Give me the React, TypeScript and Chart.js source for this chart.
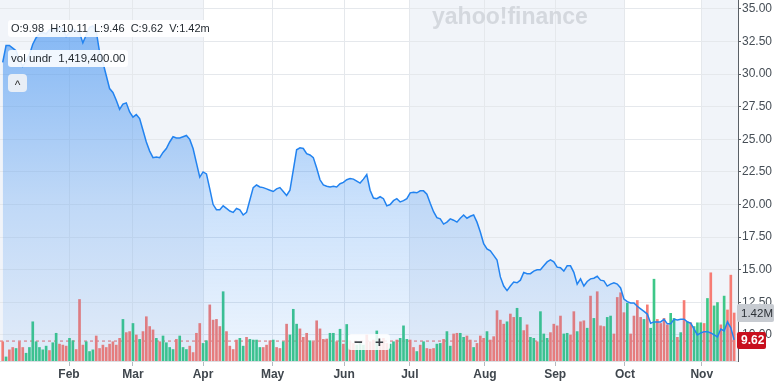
import React, { useEffect, useRef } from 'react';
import { Chart, registerables } from 'chart.js';

Chart.register(...registerables);

// Daily closing prices (trading days, Jan -> mid Nov)
const PRICES: number[] = [
  30.9, 32.2, 32.2, 32.0, 31.8, 31.1, 30.6, 31.0, 31.5, 32.3,
  32.8, 33.1, 33.2, 33.1, 33.4, 33.5, 33.4, 33.6, 33.5, 32.9,
  33.2, 33.5, 33.3, 33.2, 32.4, 33.0, 33.6, 33.7, 33.3, 31.7,
  30.9, 29.9, 28.9, 28.6, 28.0, 27.3, 27.7, 27.8, 27.1, 26.7,
  26.9, 26.6, 25.7, 24.8, 24.1, 23.6, 23.65, 23.6, 24.0, 24.3,
  24.8, 25.2, 25.1, 25.1, 25.2, 25.3, 25.0, 24.3, 23.2, 22.1,
  22.5, 22.35, 21.2, 20.0, 19.6, 19.6, 19.9, 19.7, 19.5, 19.4,
  19.7, 19.6, 19.2, 19.4, 20.35, 21.3, 21.5, 21.35, 21.3, 21.2,
  21.1, 21.0, 21.2, 21.3, 21.0, 20.7, 21.1, 22.65, 24.2, 24.35,
  24.3, 23.9, 23.8, 23.6, 22.8, 21.9, 21.5, 21.4, 21.35, 21.4,
  21.35, 21.6, 21.7, 21.9, 22.0, 21.95, 21.8, 21.65, 21.95, 22.3,
  21.1, 20.5, 20.45, 20.6, 20.45, 19.9, 20.0, 20.3, 20.45, 20.2,
  20.3, 20.45, 20.9, 20.95, 20.9, 21.05, 21.05, 20.8, 20.1, 19.45,
  19.0, 18.9, 18.5, 18.65, 18.9, 18.8, 18.65, 18.95, 19.2, 18.95,
  19.1, 19.2, 18.65, 17.9, 17.0, 16.6, 16.45, 16.1, 15.75, 14.45,
  13.75, 13.4, 13.75, 14.05, 14.0, 14.2, 14.8, 14.7, 14.7, 14.9,
  15.0, 15.0, 15.3, 15.6, 15.75, 15.6, 15.2, 15.15, 14.9, 15.3,
  15.3, 14.8, 13.9, 14.3, 13.75, 14.1, 14.3, 14.35, 14.5, 14.2,
  14.15, 13.75, 13.9, 14.0, 13.9, 13.6, 12.75, 12.55, 12.45, 12.45,
  12.2, 12.0, 11.8, 11.6, 10.9, 11.0, 11.0, 11.0, 11.2, 10.85,
  10.85, 11.2, 11.15, 11.2, 11.2, 11.0, 10.9, 10.45, 10.0, 10.15,
  10.25, 10.25, 10.15, 10.0, 9.85, 10.45, 10.3, 11.0, 10.55, 9.62,
];

// Daily volume, millions of shares
const VOLUMES: number[] = [
  0.57, 0.12, 0.33, 0.40, 0.37, 0.57, 0.40, 0.23, 0.40, 1.16,
  0.57, 0.40, 0.33, 0.44, 0.31, 0.54, 0.82, 0.50, 0.47, 0.44,
  0.67, 0.60, 0.34, 1.82, 0.47, 0.57, 0.28, 0.33, 0.74, 0.37,
  0.47, 0.40, 0.50, 0.57, 0.47, 0.67, 1.23, 0.84, 0.87, 1.11,
  0.77, 0.64, 0.87, 1.31, 1.02, 0.92, 0.67, 0.57, 0.74, 0.54,
  0.40, 0.34, 0.64, 0.74, 0.40, 0.34, 0.44, 0.25, 0.82, 1.11,
  0.52, 0.60, 1.66, 1.21, 1.23, 1.02, 2.05, 0.87, 0.44, 0.34,
  0.62, 0.67, 0.44, 0.70, 0.64, 0.62, 0.62, 0.40, 0.40, 0.47,
  0.60, 0.62, 0.40, 0.37, 0.57, 1.09, 0.77, 1.53, 1.09, 0.95,
  0.70, 0.82, 0.60, 0.57, 1.19, 0.95, 0.64, 0.65, 0.82, 0.82,
  0.57, 0.94, 0.50, 1.08, 0.57, 0.52, 0.47, 0.52, 0.47, 0.77,
  0.57, 0.62, 0.89, 0.57, 0.67, 0.52, 0.50, 0.57, 0.62, 0.67,
  1.04, 0.64, 0.62, 0.40, 0.28, 0.47, 0.57, 0.37, 0.35, 0.37,
  0.50, 0.52, 0.64, 0.87, 0.44, 0.80, 0.82, 0.82, 0.70, 0.74,
  0.62, 0.40, 0.52, 0.74, 0.67, 0.87, 0.62, 0.72, 1.49, 1.21,
  1.09, 1.16, 1.39, 1.29, 1.56, 1.29, 0.90, 1.07, 0.70, 0.67,
  0.57, 1.46, 0.80, 0.67, 0.84, 1.09, 1.04, 1.33, 0.80, 0.82,
  0.77, 1.46, 0.87, 1.16, 1.19, 0.97, 1.92, 1.26, 2.05, 1.04,
  1.02, 1.29, 1.33, 0.80, 1.88, 2.02, 1.43, 1.71, 0.80, 1.33,
  1.79, 1.29, 1.23, 1.66, 0.97, 2.42, 1.23, 1.11, 1.26, 1.07,
  1.41, 1.26, 0.70, 0.84, 1.79, 1.16, 1.13, 1.02, 1.13, 1.13,
  1.11, 1.85, 2.61, 1.63, 1.73, 1.07, 1.92, 1.51, 2.54, 1.42,
];

// Day direction: G = up day, R = down day
const DIRECTIONS: string = [
  'RGRRGRRGGG', 'GGGGRGGRRR', 'GGRRRGGGRR', 'RRRRRRGRRG', 'RGRRRRGRGG',
  'GGRGGGRRRR', 'GGRRRRGRRR', 'RGGRGGGGRR', 'RGRRGRGGGR', 'RRGRRRRRGG',
  'RGRGRRGGGR', 'RRGRRRGGRG', 'GGRRGRGRRR', 'GGRGGRRGGR', 'RGRRRGRRRR',
  'RGRRGGRRGG', 'RGGGRRRRGG', 'RRGRRGRGRR', 'RGGRRRRGRR', 'RRGRGGRRRR',
  'GGRGRGRGGG', 'RGRGGRGRRR',
].join('');

const MONTH_LABELS: string[] = ['Feb', 'Mar', 'Apr', 'May', 'Jun', 'Jul', 'Aug', 'Sep', 'Oct', 'Nov'];
// month starts, in trading-day index units
const MONTH_POS: number[] = [19.85, 39.0, 59.97, 80.8, 102.2, 121.9, 144.4, 165.4, 186.3, 209.3];
const PRICE_TICKS: number[] = [10, 12.5, 15, 17.5, 20, 22.5, 25, 27.5, 30, 32.5, 35];

const X_MIN = -0.81;
const X_MAX = 220.15;
const PRICE_MIN = 8.0;
const PRICE_MAX = 35.69;
const VOL_MAX = 10.68;
const AVG_VOL = 0.59;

// shaded periods: start -> Apr, Jul -> Oct, Nov -> end
const SHADED: [number, number][] = [
  [X_MIN, MONTH_POS[2]],
  [MONTH_POS[5], MONTH_POS[8]],
  [MONTH_POS[9], X_MAX],
];

const OHLC = { O: '9.98', H: '10.11', L: '9.46', C: '9.62', V: '1.42m' };
const VOL_UNDR = '1,419,400.00';

const FONT = '"Liberation Sans", Arial, Helvetica, sans-serif';
const GREEN = 'rgb(62,199,136)';
const RED = 'rgb(246,124,116)';
const LINE = '#2283f0';
const GRID = '#e5e8ec';

function fmtVol(v: number): string {
  return v.toFixed(2) + 'M';
}

const overlayPlugin = {
  id: 'yfOverlay',
  beforeDraw(chart: any) {
    const { ctx, chartArea, scales } = chart;
    const x = scales.x;
    ctx.save();
    ctx.fillStyle = 'rgb(241,244,249)';
    for (const [a, b] of SHADED) {
      const x0 = x.getPixelForValue(a);
      const x1 = x.getPixelForValue(b);
      ctx.fillRect(x0, chartArea.top, x1 - x0, chartArea.bottom - chartArea.top);
    }
    ctx.restore();
  },
  beforeDatasetsDraw(chart: any) {
    const { ctx } = chart;
    ctx.save();
    ctx.fillStyle = 'rgba(205,209,215,0.8)';
    ctx.font = `bold 23px ${FONT}`;
    ctx.textBaseline = 'alphabetic';
    ctx.textAlign = 'left';
    ctx.fillText('yahoo!finance', 432, 24);
    ctx.restore();
  },
  afterDraw(chart: any) {
    const { ctx, chartArea, scales } = chart;
    const right = chartArea.right;
    const lastVol = VOLUMES[VOLUMES.length - 1];
    const lastPrice = PRICES[PRICES.length - 1];
    const vy = scales.yv.getPixelForValue(lastVol);
    const py = scales.y.getPixelForValue(lastPrice);
    ctx.save();
    // volume label
    ctx.fillStyle = '#c7cbd1';
    ctx.beginPath();
    (ctx as any).roundRect(right - 1, Math.round(vy) - 9, 37, 18, 2);
    ctx.fill();
    ctx.fillStyle = '#2b3036';
    ctx.font = `11.5px ${FONT}`;
    ctx.textBaseline = 'middle';
    ctx.textAlign = 'left';
    ctx.fillText(fmtVol(lastVol), right + 3, Math.round(vy) + 0.5);
    // price label
    ctx.fillStyle = '#c8101e';
    ctx.beginPath();
    (ctx as any).roundRect(right - 1, Math.round(py) - 8, 29, 17, 2);
    ctx.fill();
    ctx.fillStyle = '#ffffff';
    ctx.font = `bold 12px ${FONT}`;
    ctx.fillText(lastPrice.toFixed(2), right + 3, Math.round(py) + 1);
    ctx.restore();
  },
};

export default function App() {
  const canvasRef = useRef<HTMLCanvasElement | null>(null);

  useEffect(() => {
    const canvas = canvasRef.current;
    if (!canvas) return;
    const chart = new Chart(canvas, {
      type: 'bar',
      data: {
        datasets: [
          {
            type: 'line',
            label: 'Price',
            data: PRICES.map((p, i) => ({ x: i, y: p })),
            yAxisID: 'y',
            borderColor: LINE,
            borderWidth: 1.5,
            pointRadius: 0,
            tension: 0,
            fill: 'start',
            backgroundColor: (c: any) => {
              const { ctx, chartArea } = c.chart;
              if (!chartArea) return 'rgba(31,127,240,0.2)';
              const g = ctx.createLinearGradient(0, chartArea.top, 0, chartArea.bottom);
              g.addColorStop(0, 'rgba(31,127,240,0.56)');
              g.addColorStop(0.55, 'rgba(31,127,240,0.24)');
              g.addColorStop(1, 'rgba(31,127,240,0.07)');
              return g;
            },
            order: 0,
          } as any,
          {
            type: 'bar',
            label: 'Volume',
            data: VOLUMES.map((v, i) => ({ x: i, y: v })),
            yAxisID: 'yv',
            backgroundColor: VOLUMES.map((_, i) => (DIRECTIONS[i] === 'G' ? GREEN : RED)),
            barThickness: 2,
            order: 1,
          } as any,
          {
            type: 'line',
            label: 'Avg volume',
            data: [
              { x: X_MIN, y: AVG_VOL },
              { x: X_MAX, y: AVG_VOL },
            ],
            yAxisID: 'yv',
            borderColor: 'rgba(232,90,90,0.9)',
            borderDash: [3, 3],
            borderWidth: 1,
            pointRadius: 0,
            fill: false,
            order: 2,
          } as any,
        ],
      },
      options: {
        responsive: false,
        animation: false,
        layout: { padding: 0 },
        plugins: { legend: { display: false }, tooltip: { enabled: false } },
        scales: {
          x: {
            type: 'linear',
            min: X_MIN,
            max: X_MAX,
            offset: false,
            afterBuildTicks: (s: any) => {
              s.ticks = MONTH_POS.map((v) => ({ value: v }));
            },
            afterFit: (s: any) => {
              s.height = 20;
              s.paddingLeft = 0;
              s.paddingRight = 0;
            },
            ticks: {
              callback: (_v: any, i: number) => MONTH_LABELS[i],
              autoSkip: false,
              maxRotation: 0,
              padding: 1,
              color: '#3f464d',
              font: { family: FONT, size: 12, weight: 'bold' },
            },
            grid: { color: GRID, tickColor: '#b5bac0', tickLength: 5, offset: false },
            border: { color: '#dcdfe3' },
          },
          y: {
            type: 'linear',
            position: 'right',
            min: PRICE_MIN,
            max: PRICE_MAX,
            afterBuildTicks: (s: any) => {
              s.ticks = PRICE_TICKS.map((v) => ({ value: v }));
            },
            afterFit: (s: any) => {
              s.width = 41;
              s.paddingTop = 0;
              s.paddingBottom = 0;
            },
            ticks: {
              callback: (v: any) => Number(v).toFixed(2),
              padding: 1,
              color: '#464e56',
              font: { family: FONT, size: 12 },
            },
            grid: { color: GRID, tickColor: '#5a5f66', tickLength: 3 },
            border: { color: '#5a5f66' },
          },
          yv: {
            type: 'linear',
            display: false,
            min: 0,
            max: VOL_MAX,
          },
        },
      } as any,
      plugins: [overlayPlugin],
    });
    return () => chart.destroy();
  }, []);

  const boxBase: React.CSSProperties = {
    position: 'absolute',
    left: 8,
    height: 17,
    lineHeight: '17px',
    padding: '0 3px',
    background: 'rgba(255,255,255,0.88)',
    borderRadius: 3,
    color: '#232a31',
    whiteSpace: 'pre',
  };

  return (
    <div
      style={{
        position: 'fixed',
        left: 0,
        top: 0,
        width: 779,
        height: 381,
        background: '#ffffff',
        fontFamily: FONT,
        overflow: 'hidden',
      }}
    >
      <canvas ref={canvasRef} width={779} height={381} style={{ display: 'block' }} />
      <div style={{ ...boxBase, top: 20, fontSize: 11 }}>
        {`O:${OHLC.O}  H:${OHLC.H}  L:${OHLC.L}  C:${OHLC.C}  V:${OHLC.V}`}
      </div>
      <div style={{ ...boxBase, top: 50, fontSize: 11.5 }}>{`vol undr  ${VOL_UNDR}`}</div>
      <div
        style={{
          position: 'absolute',
          left: 8,
          top: 74,
          width: 19,
          height: 18,
          lineHeight: '22px',
          textAlign: 'center',
          background: 'rgba(236,240,246,0.95)',
          borderRadius: 4,
          fontSize: 12,
          color: '#333',
        }}
      >
        ^
      </div>
      <div
        style={{
          position: 'absolute',
          left: 348,
          top: 334,
          width: 42,
          height: 16,
          lineHeight: '16px',
          background: 'rgba(255,255,255,0.85)',
          borderRadius: 3,
          fontSize: 15,
          fontWeight: 'bold',
          color: '#3a3f45',
          display: 'flex',
          justifyContent: 'space-around',
        }}
      >
        <span>−</span>
        <span>+</span>
      </div>
    </div>
  );
}
